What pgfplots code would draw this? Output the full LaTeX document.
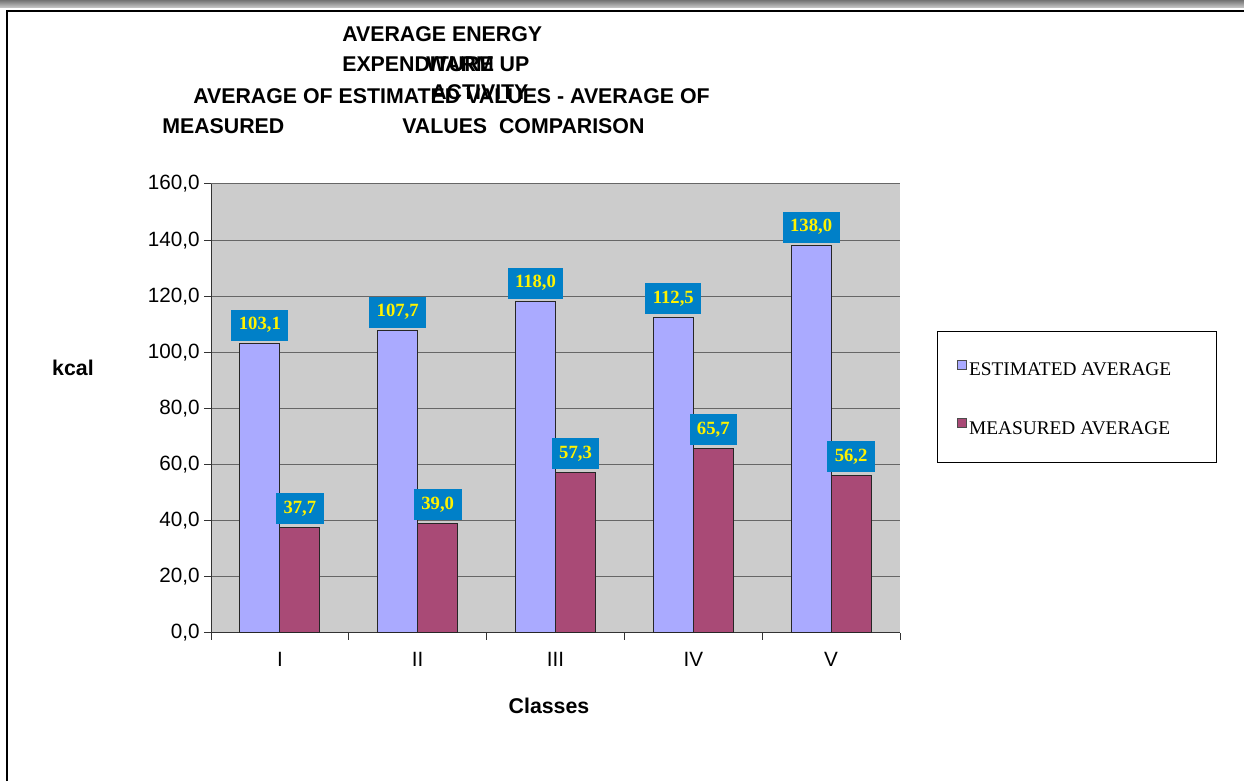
\documentclass[border=0pt]{standalone}
\usepackage{fontspec}
\setmainfont{Liberation Sans}
\newfontfamily\serifff{Liberation Serif}
\usepackage{pgfplots}
\pgfplotsset{compat=1.18}
\definecolor{est}{RGB}{170,170,255}
\definecolor{meas}{RGB}{169,74,118}
\definecolor{lblue}{RGB}{0,128,200}
\definecolor{plotbg}{RGB}{204,204,204}
\newcommand\titlefont{\bfseries\fontsize{16}{19}\selectfont}
\newcommand\tickfont{\fontsize{15.5}{18}\selectfont}
\newcommand\lblfont{\serifff\bfseries\fontsize{14}{16}\selectfont}
\newcommand\legfont{\serifff\fontsize{14.5}{17}\selectfont}
\begin{document}
\begin{tikzpicture}
\begin{scope}[x=0.75pt,y=-0.75pt,yshift=585.75pt]
  \path[use as bounding box] (0,0) rectangle (1244,781);
  \shade[top color=black!55, bottom color=black!20] (0,0) rectangle (1244,8);
  \draw[black, line width=0.9pt] (7,781) -- (7,11) -- (1244,11);
  % title fragments (overlapping, as in the reference)
  \node[anchor=base west, inner sep=0pt, font=\titlefont] at (342,42) {AVERAGE ENERGY};
  \node[anchor=base west, inner sep=0pt, font=\titlefont] at (342,72) {EXPENDITURE};
  \node[anchor=base west, inner sep=0pt, font=\titlefont] at (426,72) {WARM UP};
  \node[anchor=base west, inner sep=0pt, font=\titlefont] at (193,104) {AVERAGE OF ESTIMATED VALUES - AVERAGE OF};
  \node[anchor=base west, inner sep=0pt, font=\titlefont] at (431,100) {ACTIVITY};
  \node[anchor=base west, inner sep=0pt, font=\titlefont] at (162,134) {MEASURED};
  \node[anchor=base west, inner sep=0pt, font=\titlefont] at (402,134) {VALUES\ \ COMPARISON};
  % axis titles
  \node[anchor=base, inner sep=0pt, font=\titlefont] at (73,376) {kcal};
  \node[anchor=base, inner sep=0pt, font=\titlefont] at (549,713) {Classes};
  % legend frame
  \draw[black, line width=0.75pt, fill=white] (937,332) rectangle (1216,463);
\end{scope}
\begin{axis}[
  at={(158.25pt,111pt)}, anchor=south west,
  scale only axis, width=516.75pt, height=336.75pt,
  xmin=-0.5, xmax=4.5, ymin=0, ymax=160,
  ytick={0,20,...,160},
  axis background/.style={fill=plotbg},
  axis x line*=bottom, axis y line*=left,
  axis line style={black!80, line width=0.75pt},
  ymajorgrids, grid style={black!60, line width=0.75pt},
  xtick={-0.5,0.5,1.5,2.5,3.5,4.5}, xticklabels={},
  extra x ticks={0,1,2,3,4},
  extra x tick labels={I,II,III,IV,V},
  extra x tick style={major tick length=0pt, xticklabel style={yshift=-11pt}},
  tick align=outside, major tick length=5pt,
  tick style={black!80, line width=0.75pt},
  /pgf/number format/assume math mode=true,
  yticklabel style={/pgf/number format/.cd, fixed, fixed zerofill, precision=1, use comma},
  ticklabel style={font=\tickfont},
  ybar=0pt, bar width=30pt,
  nodes near coords={\pgfmathprintnumber[fixed,fixed zerofill,precision=1,use comma]{\pgfplotspointmeta}},
  every node near coord/.append style={fill=lblue, text=yellow, font=\lblfont,
     inner xsep=5.6pt, inner ysep=0pt, minimum height=23.25pt, anchor=south, yshift=2pt},
  legend style={at={(1.0828,0.5234)}, anchor=west, draw=none, fill=none,
     inner sep=0pt, row sep=30pt, column sep=1.5pt, font=\legfont,
     nodes={inner sep=0pt}},
  legend cell align=left,
]
\addplot[fill=est, draw=black!85, line width=0.75pt,
  legend image code/.code={\draw[fill=est, draw=black!70, line width=0.6pt] (0pt,1pt) rectangle (6.75pt,7.75pt);}]
  coordinates {(0,103.1) (1,107.7) (2,118.0) (3,112.5) (4,138.0)};
\addlegendentry{ESTIMATED AVERAGE}
\addplot[fill=meas, draw=black!85, line width=0.75pt,
  legend image code/.code={\draw[fill=meas, draw=black!70, line width=0.6pt] (0pt,1pt) rectangle (6.75pt,7.75pt);}]
  coordinates {(0,37.7) (1,39.0) (2,57.3) (3,65.7) (4,56.2)};
\addlegendentry{MEASURED AVERAGE}
\end{axis}
\end{tikzpicture}
\end{document}
